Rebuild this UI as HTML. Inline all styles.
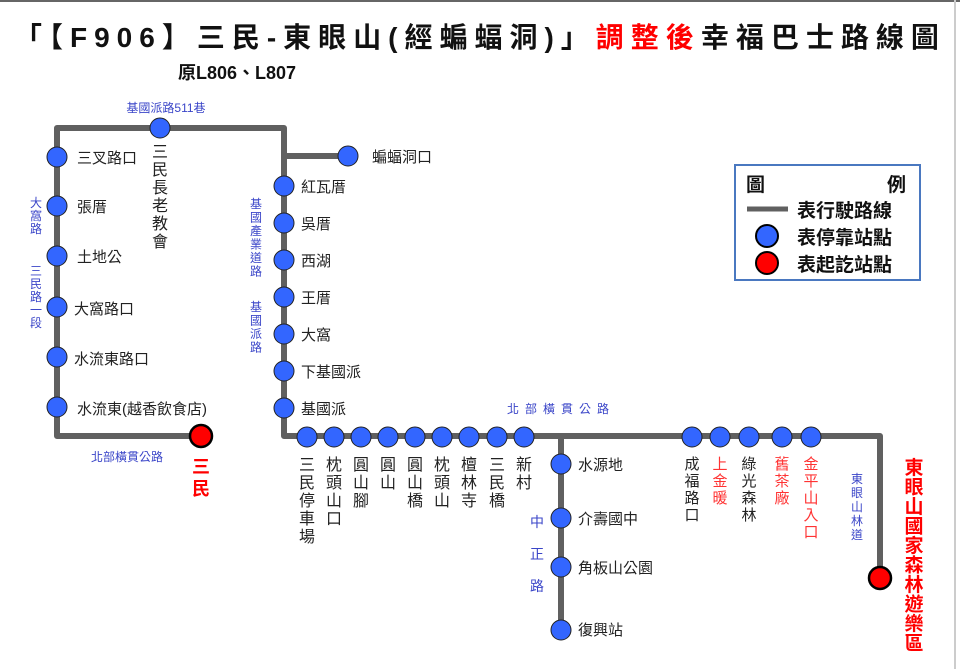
<!DOCTYPE html>
<html><head><meta charset="utf-8"><style>
html,body{margin:0;padding:0;background:#fff}
svg{display:block}
text{font-family:"Liberation Sans","Noto Sans CJK TC",sans-serif}
</style></head><body>
<svg width="960" height="669" viewBox="0 0 960 669" xmlns="http://www.w3.org/2000/svg">
<rect x="0" y="0" width="960" height="669" fill="#fff"/>
<rect x="0" y="0" width="960" height="2" fill="#666"/>
<rect x="954" y="0" width="2" height="669" fill="#ccc"/>

<!-- title -->
<text x="14" y="47" font-size="28" font-weight="bold" fill="#111" letter-spacing="7">「【F906】三民-東眼山(經蝙蝠洞)」<tspan fill="#f00">調整後</tspan>幸福巴士路線圖</text>
<text x="178" y="79" font-size="18" font-weight="bold" fill="#111">原L806、L807</text>

<!-- routes -->
<g stroke="#606060" stroke-width="6" fill="none" stroke-linejoin="round" stroke-linecap="round">
<polyline points="201,436 57,436 57,128 284,128 284,436 880,436 880,578"/>
<line x1="284" y1="156" x2="348" y2="156"/>
<line x1="561" y1="436" x2="561" y2="630"/>
</g>

<!-- blue stops -->
<g fill="#3366ff" stroke="#222" stroke-width="1">
<circle cx="57" cy="157" r="10"/><circle cx="57" cy="206" r="10"/><circle cx="57" cy="256" r="10"/>
<circle cx="57" cy="307" r="10"/><circle cx="57" cy="357" r="10"/><circle cx="57" cy="407" r="10"/>
<circle cx="160" cy="128" r="10"/>
<circle cx="348" cy="156" r="10"/>
<circle cx="284" cy="186" r="10"/><circle cx="284" cy="223" r="10"/><circle cx="284" cy="260" r="10"/>
<circle cx="284" cy="297" r="10"/><circle cx="284" cy="334" r="10"/><circle cx="284" cy="371" r="10"/>
<circle cx="284" cy="408" r="10"/>
<circle cx="307" cy="437" r="10"/><circle cx="334" cy="437" r="10"/><circle cx="361" cy="437" r="10"/>
<circle cx="388" cy="437" r="10"/><circle cx="415" cy="437" r="10"/><circle cx="442" cy="437" r="10"/>
<circle cx="469" cy="437" r="10"/><circle cx="497" cy="437" r="10"/><circle cx="524" cy="437" r="10"/>
<circle cx="561" cy="464" r="10"/><circle cx="561" cy="518" r="10"/><circle cx="561" cy="567" r="10"/>
<circle cx="561" cy="630" r="10"/>
<circle cx="692" cy="437" r="10"/><circle cx="720" cy="437" r="10"/><circle cx="749" cy="437" r="10"/>
<circle cx="782" cy="437" r="10"/><circle cx="811" cy="437" r="10"/>
</g>
<g fill="#f00" stroke="#000" stroke-width="2.5">
<circle cx="201" cy="436" r="11"/><circle cx="880" cy="578" r="11"/>
</g>

<!-- horizontal stop labels -->
<g font-size="15" fill="#222">
<text x="77" y="163">三叉路口</text>
<text x="77" y="212">張厝</text>
<text x="77" y="262">土地公</text>
<text x="74" y="314">大窩路口</text>
<text x="74" y="364">水流東路口</text>
<text x="77" y="414">水流東(越香飲食店)</text>
<text x="372" y="162">蝙蝠洞口</text>
<text x="301" y="192">紅瓦厝</text>
<text x="301" y="229">吳厝</text>
<text x="301" y="266">西湖</text>
<text x="301" y="303">王厝</text>
<text x="301" y="340">大窩</text>
<text x="301" y="377">下基國派</text>
<text x="301" y="414">基國派</text>
<text x="578" y="470">水源地</text>
<text x="578" y="524">介壽國中</text>
<text x="578" y="573">角板山公園</text>
<text x="578" y="635">復興站</text>
</g>

<!-- vertical stop labels -->
<g font-size="16" fill="#222" text-anchor="middle">
<text x="160" y="157"><tspan x="160">三</tspan><tspan x="160" dy="18">民</tspan><tspan x="160" dy="18">長</tspan><tspan x="160" dy="18">老</tspan><tspan x="160" dy="18">教</tspan><tspan x="160" dy="18">會</tspan></text>
<text x="307" y="470"><tspan x="307">三</tspan><tspan x="307" dy="18">民</tspan><tspan x="307" dy="18">停</tspan><tspan x="307" dy="18">車</tspan><tspan x="307" dy="18">場</tspan></text>
<text y="470"><tspan x="334">枕</tspan><tspan x="334" dy="18">頭</tspan><tspan x="334" dy="18">山</tspan><tspan x="334" dy="18">口</tspan></text>
<text y="470"><tspan x="361">圓</tspan><tspan x="361" dy="18">山</tspan><tspan x="361" dy="18">腳</tspan></text>
<text y="470"><tspan x="388">圓</tspan><tspan x="388" dy="18">山</tspan></text>
<text y="470"><tspan x="415">圓</tspan><tspan x="415" dy="18">山</tspan><tspan x="415" dy="18">橋</tspan></text>
<text y="470"><tspan x="442">枕</tspan><tspan x="442" dy="18">頭</tspan><tspan x="442" dy="18">山</tspan></text>
<text y="470"><tspan x="469">檀</tspan><tspan x="469" dy="18">林</tspan><tspan x="469" dy="18">寺</tspan></text>
<text y="470"><tspan x="497">三</tspan><tspan x="497" dy="18">民</tspan><tspan x="497" dy="18">橋</tspan></text>
<text y="470"><tspan x="524">新</tspan><tspan x="524" dy="18">村</tspan></text>
</g>
<g font-size="15" text-anchor="middle">
<text y="469" fill="#222"><tspan x="692">成</tspan><tspan x="692" dy="17">福</tspan><tspan x="692" dy="17">路</tspan><tspan x="692" dy="17">口</tspan></text>
<text y="469" fill="#f33"><tspan x="720">上</tspan><tspan x="720" dy="17">金</tspan><tspan x="720" dy="17">暖</tspan></text>
<text y="469" fill="#222"><tspan x="749">綠</tspan><tspan x="749" dy="17">光</tspan><tspan x="749" dy="17">森</tspan><tspan x="749" dy="17">林</tspan></text>
<text y="469" fill="#f33"><tspan x="782">舊</tspan><tspan x="782" dy="17">茶</tspan><tspan x="782" dy="17">廠</tspan></text>
<text y="469" fill="#f33"><tspan x="811">金</tspan><tspan x="811" dy="17">平</tspan><tspan x="811" dy="17">山</tspan><tspan x="811" dy="17">入</tspan><tspan x="811" dy="17">口</tspan></text>
</g>
<g font-size="18" font-weight="bold" fill="#f00" text-anchor="middle">
<text y="473"><tspan x="201">三</tspan><tspan x="201" dy="22">民</tspan></text>
</g>
<g font-size="19" font-weight="bold" fill="#f00" text-anchor="middle">
<text y="474"><tspan x="914">東</tspan><tspan x="914" dy="19.5">眼</tspan><tspan x="914" dy="19.5">山</tspan><tspan x="914" dy="19.5">國</tspan><tspan x="914" dy="19.5">家</tspan><tspan x="914" dy="19.5">森</tspan><tspan x="914" dy="19.5">林</tspan><tspan x="914" dy="19.5">遊</tspan><tspan x="914" dy="19.5">樂</tspan><tspan x="914" dy="19.5">區</tspan></text>
</g>

<!-- road labels (blue) -->
<g font-size="12" fill="#3a45c8" text-anchor="middle">
<text x="166" y="112">基國派路511巷</text>
<text x="127" y="461">北部橫貫公路</text>
<text x="561" y="413" letter-spacing="6">北部橫貫公路</text>
<text y="207"><tspan x="36">大</tspan><tspan x="36" dy="13">窩</tspan><tspan x="36" dy="13">路</tspan></text>
<text y="275"><tspan x="36">三</tspan><tspan x="36" dy="13">民</tspan><tspan x="36" dy="13">路</tspan><tspan x="36" dy="13">一</tspan><tspan x="36" dy="13">段</tspan></text>
<text y="208"><tspan x="256">基</tspan><tspan x="256" dy="13.5">國</tspan><tspan x="256" dy="13.5">產</tspan><tspan x="256" dy="13.5">業</tspan><tspan x="256" dy="13.5">道</tspan><tspan x="256" dy="13.5">路</tspan></text>
<text y="311"><tspan x="256">基</tspan><tspan x="256" dy="13.5">國</tspan><tspan x="256" dy="13.5">派</tspan><tspan x="256" dy="13.5">路</tspan></text>
<text y="483"><tspan x="857">東</tspan><tspan x="857" dy="14">眼</tspan><tspan x="857" dy="14">山</tspan><tspan x="857" dy="14">林</tspan><tspan x="857" dy="14">道</tspan></text>
</g>
<g font-size="14" fill="#3a45c8" text-anchor="middle">
<text y="527"><tspan x="537">中</tspan><tspan x="537" dy="32">正</tspan><tspan x="537" dy="32">路</tspan></text>
</g>

<!-- legend -->
<rect x="735" y="165" width="185" height="115" fill="#fff" stroke="#4a78c0" stroke-width="2"/>
<g font-size="19" font-weight="bold" fill="#111">
<text x="746" y="191">圖</text>
<text x="887" y="191">例</text>
<text x="797" y="217">表行駛路線</text>
<text x="797" y="244">表停靠站點</text>
<text x="797" y="271">表起訖站點</text>
</g>
<line x1="747" y1="209" x2="788" y2="209" stroke="#606060" stroke-width="5"/>
<circle cx="767" cy="236" r="11" fill="#3366ff" stroke="#000" stroke-width="2"/>
<circle cx="767" cy="263" r="11" fill="#f00" stroke="#000" stroke-width="2"/>
</svg>
</body></html>
